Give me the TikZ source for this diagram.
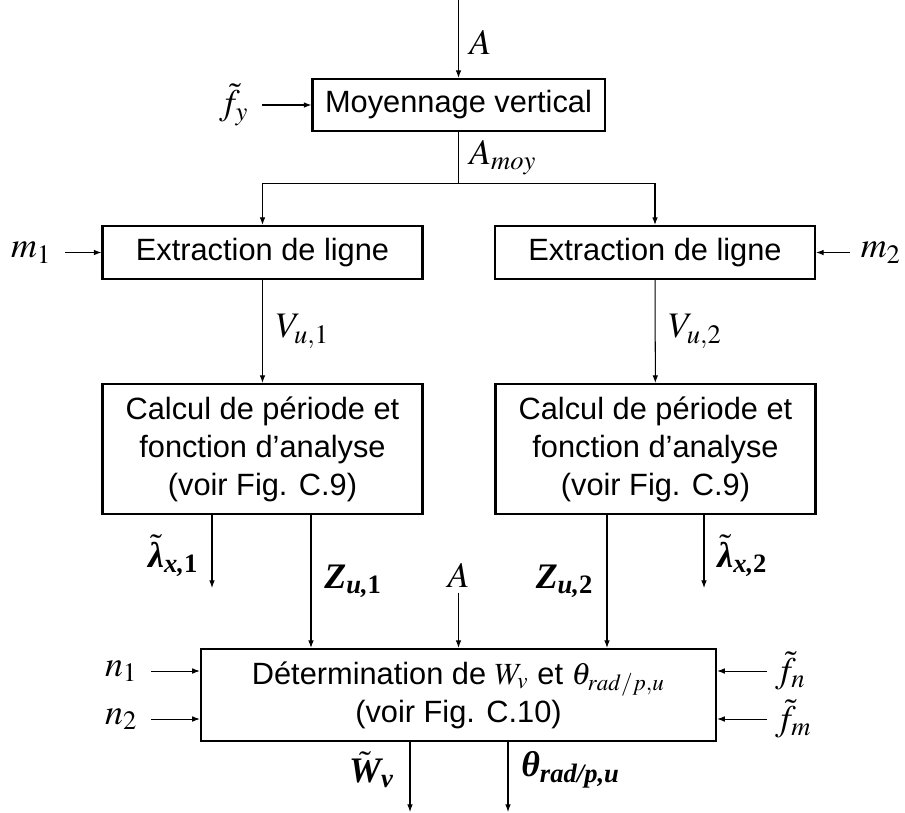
\documentclass[tikz,border=0pt]{standalone}
\usepackage{amsmath}
\usepackage{mathptmx}
\usepackage[no-math]{fontspec}
\setmainfont{Liberation Sans}
\newfontfamily\tms{Liberation Serif}
\newcommand{\bti}{\tms\bfseries\itshape}
\usetikzlibrary{arrows.meta, positioning}
\tikzset{
  box/.style={draw, line width=0.8pt, align=center, inner sep=0pt,
              font=\fontsize{12}{14.8}\selectfont},
  flow/.style={-{Latex[length=3pt,width=2.2pt]}, line width=0.4pt},
  sig/.style={inner sep=5pt, font=\fontsize{14}{16}\selectfont},
}
\begin{document}
\begin{tikzpicture}[x=0.39pt,y=-0.39pt]
\useasboundingbox (0,0) rectangle (905,812);
% blocs
\node[box,minimum width=113.9pt,minimum height=20.3pt] (mov) at (458.5,105) {Moyennage vertical};
\node[box,minimum width=124.8pt,minimum height=20.7pt] (ext1) at (262.5,252.5) {Extraction de ligne};
\node[box,minimum width=124.8pt,minimum height=20.7pt] (ext2) at (655,252.5) {Extraction de ligne};
\node[box,minimum width=124.8pt,minimum height=50.7pt] (calc1) at (262.5,449) {Calcul de période et\\fonction d’analyse\\(voir Fig. C.9)};
\node[box,minimum width=124.8pt,minimum height=50.7pt] (calc2) at (655.5,449) {Calcul de période et\\fonction d’analyse\\(voir Fig. C.9)};
\node[box,minimum width=200.9pt,minimum height=35.9pt] (det) at (458.5,695) {Détermination de $W_v$ et $\theta_{rad/p,u}$\\(voir Fig. C.10)};
% entrees
\coordinate (in) at (458.5,0);
\node[sig,anchor=east] (fy) at (262,105) {$\tilde{f}_y$};
\node[sig,anchor=east] (m1) at (65,252.5) {$m_1$};
\node[sig,anchor=west,inner sep=4pt] (m2) at (850,252.5) {$m_2$};
\node[sig,anchor=east] (n1) at (151,671) {$n_1$};
\node[sig,anchor=east] (n2) at (151,719) {$n_2$};
\node[sig,anchor=west,inner sep=3pt] (fn) at (767,671) {$\tilde{f}_n$};
\node[sig,anchor=west,inner sep=3pt] (fm) at (767,719) {$\tilde{f}_m$};
\node[sig,inner sep=2pt] (A2) at (458.5,575) {$A$};
% points de passage
\coordinate (split) at (458.5,183);
\coordinate (l1) at (212,588);
\coordinate (l2) at (704,588);
\coordinate (z1) at (311,0);
\coordinate (z2) at (607,0);
\coordinate (wv) at (410,812);
\coordinate (th) at (508,812);
% liaisons
\draw[flow] (in) -- node[sig,anchor=west,inner sep=4pt,pos=0.55] (lA) {$A$} (mov);
\draw[flow] (fy) -- (mov);
\draw (mov) -- node[sig,anchor=west,inner sep=4pt] (lAm) {$A_{moy}$} (split);
\draw[flow] (split) -| (ext1);
\draw[flow] (split) -| (ext2);
\draw[flow] (m1) -- (ext1);
\draw[flow] (m2) -- (ext2);
\draw[flow] (ext1) -- node[sig,anchor=west,inner sep=5pt] (lV1) {$V_{u,1}$} (calc1);
\draw[flow] (ext2) -- node[sig,anchor=west,inner sep=5pt] (lV2) {$V_{u,2}$} (calc2);
\draw[flow] (l1 |- calc1.south) -- node[sig,anchor=east,pos=0.56] (ll1) {$\tilde{\text{\bti λ}}_{\text{\bti x,\upshape 1}}$} (l1);
\draw[flow] (l2 |- calc2.south) -- node[sig,anchor=west,pos=0.56] (ll2) {$\tilde{\text{\bti λ}}_{\text{\bti x,\upshape 2}}$} (l2);
\draw[flow] (calc1.south -| z1) -- node[sig,anchor=west,pos=0.5] (lz1) {$\text{\bti Z}_{\text{\bti u,\upshape 1}}$} (det.north -| z1);
\draw[flow] (calc2.south -| z2) -- node[sig,anchor=east,pos=0.5] (lz2) {$\text{\bti Z}_{\text{\bti u,\upshape 2}}$} (det.north -| z2);
\draw[flow] (A2) -- (det);
\draw[flow] (n1) -- (n1 -| det.west);
\draw[flow] (n2) -- (n2 -| det.west);
\draw[flow] (fn) -- (fn -| det.east);
\draw[flow] (fm) -- (fm -| det.east);
\draw[flow] (det.south -| wv) -- node[sig,anchor=east,inner sep=6pt,pos=0.4] (lW) {$\tilde{\text{\bti W}}_{\text{\bti v}}$} (wv);
\draw[flow] (det.south -| th) -- node[sig,anchor=west,inner sep=5pt,pos=0.4] (lth) {$\text{\bti θ}_{\text{\bti rad/p,u}}$} (th);
\end{tikzpicture}
\end{document}
